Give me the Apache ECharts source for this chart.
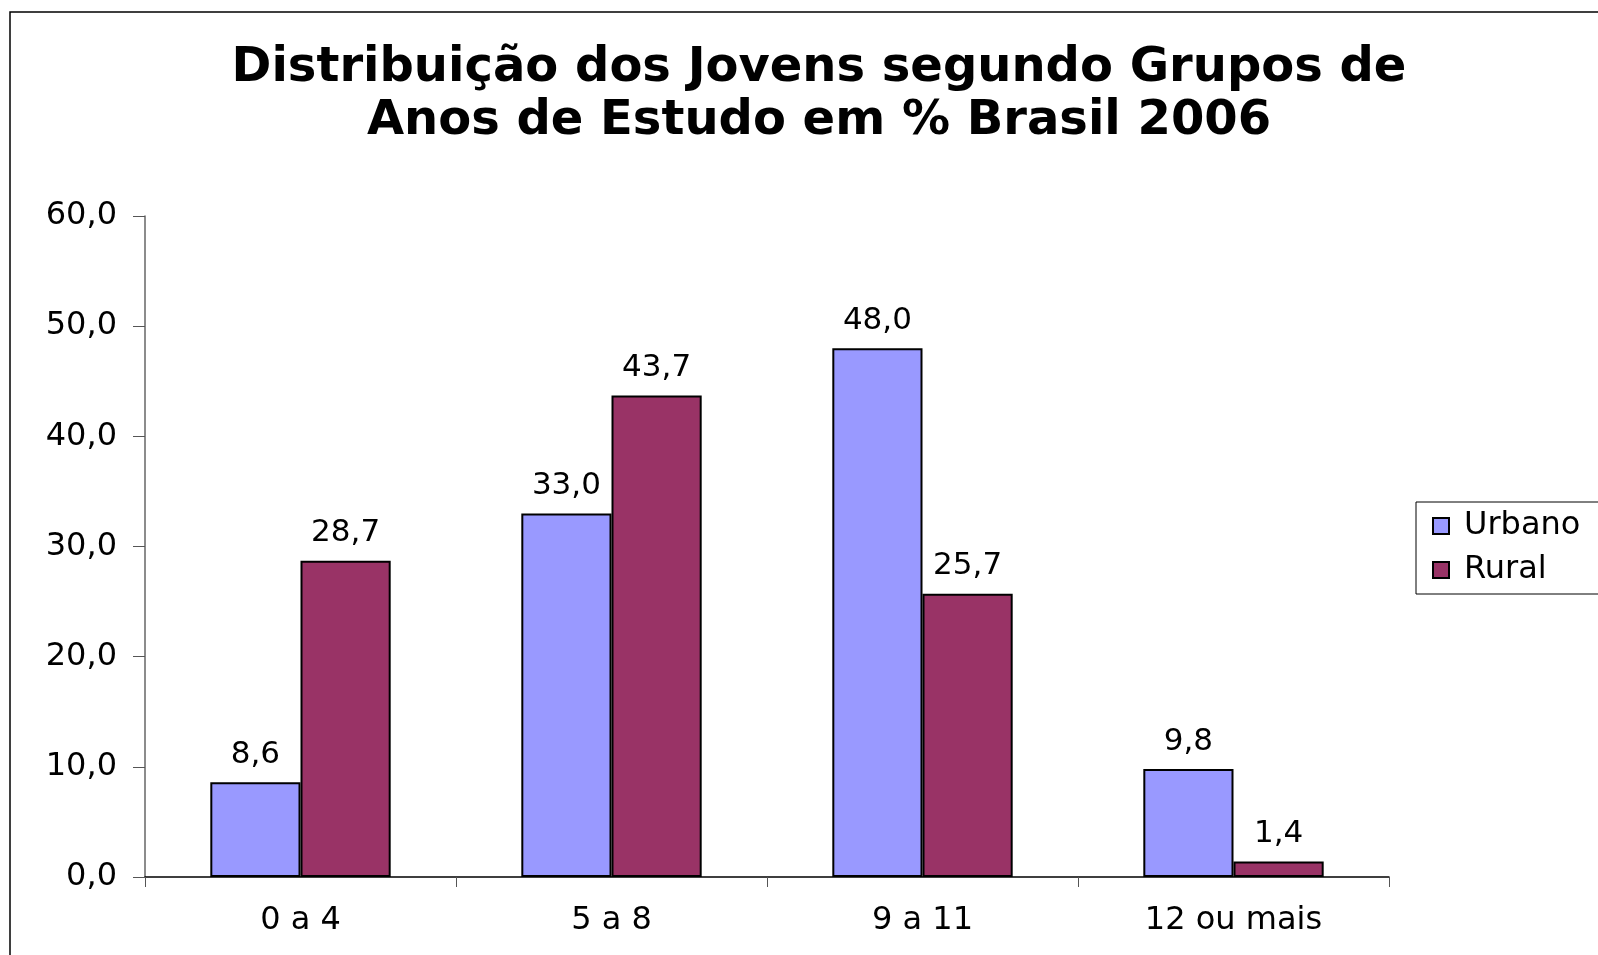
<!DOCTYPE html>
<html>
<head>
<meta charset="utf-8">
<script src="https://cdn.jsdelivr.net/npm/echarts@6/dist/echarts.min.js"></script>
<style>
  html, body { margin: 0; padding: 0; background: #fff; }
  #chart { width: 1598px; height: 955px; }
</style>
</head>
<body>
<div id="chart"></div>
<script>
const categories = ['0 a 4', '5 a 8', '9 a 11', '12 ou mais']
const urbano = [8.6, 33.0, 48.0, 9.8]
const rural = [28.7, 43.7, 25.7, 1.4]
const seriesNames = ['Urbano', 'Rural']

const font = 'DejaVu Sans'
const fmt = v => v.toFixed(1).replace('.', ',')

const chart = echarts.init(document.getElementById('chart'))

chart.setOption({
  animation: false,
  backgroundColor: '#fff',
  title: {
    text: 'Distribuição dos Jovens segundo Grupos de\nAnos de Estudo em % Brasil 2006',
    left: 814,
    textAlign: 'center',
    top: 37,
    textStyle: {
      fontFamily: font,
      fontWeight: 'bold',
      fontSize: 48,
      lineHeight: 53,
      color: '#000'
    }
  },
  graphic: [{
    type: 'rect',
    shape: { x: 10, y: 12, width: 1700, height: 1100 },
    style: { fill: 'none', stroke: '#000', lineWidth: 1.5 },
    silent: true
  }],
  legend: {
    orient: 'vertical',
    left: 1416,
    top: 502,
    data: seriesNames,
    padding: [8, 60, 8, 16],
    itemGap: 12,
    itemWidth: 16,
    itemHeight: 16,
    borderColor: '#000',
    borderWidth: 1,
    icon: 'rect',
    textStyle: { fontFamily: font, fontSize: 32, color: '#000', padding: [0, 0, 0, 10] }
  },
  grid: {
    left: 145,
    right: 209,
    top: 216,
    bottom: 78,
    containLabel: false
  },
  xAxis: {
    type: 'category',
    data: categories,
    axisLine: { lineStyle: { color: '#000', width: 1.5 } },
    axisTick: { show: true, length: 10, lineStyle: { color: '#555' } },
    axisLabel: { fontFamily: font, fontSize: 32, color: '#000', margin: 28 }
  },
  yAxis: {
    type: 'value',
    min: 0,
    max: 60,
    interval: 10,
    splitLine: { show: false },
    axisLine: { show: true, lineStyle: { color: '#666', width: 1.5 } },
    axisTick: { show: true, length: 12, lineStyle: { color: '#555' } },
    axisLabel: {
      fontFamily: font, fontSize: 32, color: '#000', margin: 28,
      formatter: fmt
    }
  },
  series: [{
    name: seriesNames[0],
    type: 'bar',
    data: urbano,
    barGap: '0%',
    barCategoryGap: '42%',
    itemStyle: { color: '#9999FF', borderColor: '#000', borderWidth: 2 },
    label: {
      show: true, position: 'top', distance: 12,
      fontFamily: font, fontSize: 31, color: '#000',
      formatter: p => fmt(p.value)
    }
  }, {
    name: seriesNames[1],
    type: 'bar',
    data: rural,
    barGap: '0%',
    barCategoryGap: '42%',
    itemStyle: { color: '#993366', borderColor: '#000', borderWidth: 2 },
    label: {
      show: true, position: 'top', distance: 12,
      fontFamily: font, fontSize: 31, color: '#000',
      formatter: p => fmt(p.value)
    }
  }]
})
</script>
</body>
</html>
